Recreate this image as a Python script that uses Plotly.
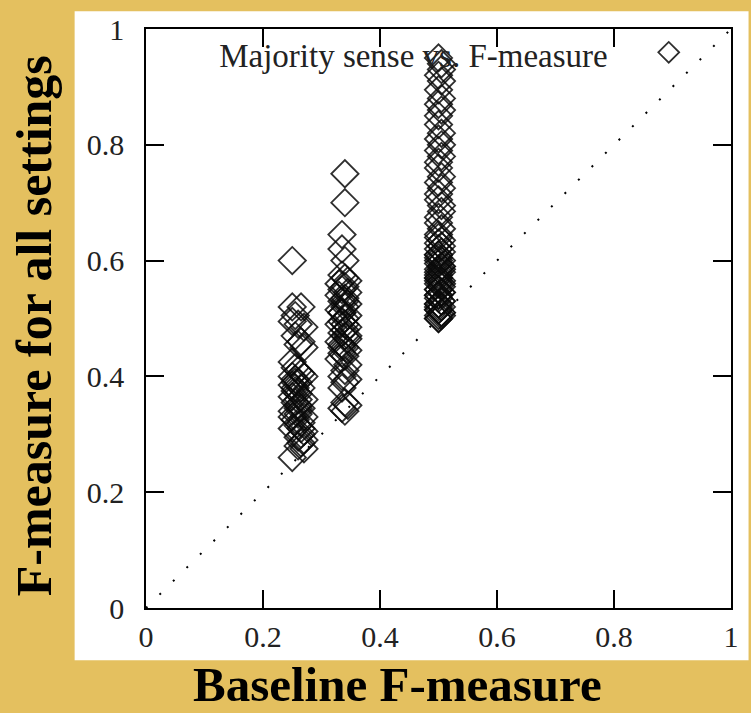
import plotly.graph_objects as go

# Baseline (majority sense) F-measure vs. F-measure obtained for each setting
base_a = [0.25, 0.25, 0.265, 0.255, 0.25, 0.26, 0.27, 0.255, 0.265, 0.26, 0.27,
          0.25, 0.255, 0.26, 0.265, 0.25, 0.27, 0.255, 0.26, 0.25, 0.265, 0.255,
          0.26, 0.25, 0.27, 0.255, 0.26, 0.265, 0.25, 0.26, 0.27, 0.255, 0.265,
          0.26, 0.25, 0.27, 0.265, 0.26, 0.27, 0.265, 0.26, 0.27, 0.25,
          0.255, 0.26, 0.25, 0.265, 0.255, 0.26]
fm_a = [0.60, 0.52, 0.52, 0.505, 0.495, 0.49, 0.485, 0.47, 0.46, 0.455, 0.45,
        0.425, 0.415, 0.41, 0.405, 0.40, 0.40, 0.395, 0.39, 0.385, 0.38, 0.375,
        0.37, 0.365, 0.36, 0.355, 0.35, 0.345, 0.34, 0.335, 0.33, 0.325, 0.32,
        0.315, 0.31, 0.305, 0.30, 0.295, 0.29, 0.285, 0.28, 0.275, 0.26,
        0.39, 0.36, 0.33, 0.31, 0.38, 0.345]

base_b = [0.34, 0.34, 0.335, 0.335, 0.34,
          0.335, 0.34, 0.345, 0.33, 0.34, 0.335, 0.345, 0.33, 0.34, 0.335,
          0.345, 0.34, 0.33, 0.335, 0.345, 0.34, 0.335, 0.33, 0.345, 0.34,
          0.335, 0.34, 0.345, 0.33, 0.335, 0.34, 0.345, 0.335, 0.34, 0.33,
          0.345, 0.34, 0.335, 0.345, 0.34, 0.335, 0.34, 0.345, 0.335, 0.34,
          0.34, 0.335, 0.34, 0.345, 0.335]
fm_b = [0.75, 0.70, 0.645, 0.62, 0.60,
        0.575, 0.57, 0.565, 0.56, 0.555, 0.55, 0.545, 0.54, 0.535, 0.53,
        0.525, 0.52, 0.515, 0.51, 0.505, 0.50, 0.495, 0.49, 0.485, 0.48,
        0.475, 0.47, 0.465, 0.46, 0.455, 0.45, 0.445, 0.44, 0.435, 0.43,
        0.42, 0.41, 0.40, 0.395, 0.39, 0.38, 0.355, 0.35, 0.345, 0.34,
        0.53, 0.51, 0.49, 0.47, 0.45]

base_c = [0.5, 0.505, 0.505, 0.5, 0.505, 0.5, 0.505, 0.5, 0.505, 0.5,
          0.5, 0.505, 0.5, 0.505, 0.5, 0.505, 0.5, 0.5, 0.505, 0.5,
          0.505, 0.5, 0.5, 0.505, 0.505, 0.5, 0.5, 0.505, 0.5, 0.5,
          0.505, 0.5, 0.505, 0.5, 0.505, 0.5, 0.5, 0.505, 0.5, 0.505,
          0.5, 0.505, 0.5, 0.5, 0.505, 0.5, 0.505, 0.5, 0.505, 0.5,
          0.5, 0.505, 0.5, 0.505, 0.5, 0.505, 0.5, 0.5, 0.505, 0.5,
          0.505, 0.5, 0.5, 0.505, 0.5, 0.505, 0.5, 0.505, 0.5, 0.5,
          0.505, 0.5, 0.5, 0.505, 0.5, 0.5]
fm_c = [0.95, 0.94, 0.93, 0.92, 0.91, 0.895, 0.88, 0.87, 0.86, 0.85,
        0.835, 0.82, 0.81, 0.80, 0.79, 0.78, 0.77, 0.76, 0.745, 0.735,
        0.725, 0.715, 0.705, 0.695, 0.685, 0.675, 0.665, 0.655, 0.645, 0.64,
        0.635, 0.63, 0.625, 0.62, 0.615, 0.61, 0.605, 0.60, 0.595, 0.59,
        0.585, 0.58, 0.575, 0.57, 0.565, 0.56, 0.555, 0.55, 0.545, 0.54,
        0.535, 0.53, 0.525, 0.52, 0.515, 0.51, 0.505, 0.50, 0.585, 0.565,
        0.545, 0.525, 0.515, 0.505, 0.50, 0.51, 0.52, 0.53, 0.54, 0.55,
        0.56, 0.57, 0.58, 0.59, 0.60, 0.61]

diag = [0, 1]
tick_vals = [0, 0.2, 0.4, 0.6, 0.8, 1]
tick_text = ["0", "0.2", "0.4", "0.6", "0.8", "1"]
key_label = "Majority sense vs. F-measure"

baseline = base_a + base_b + base_c
fmeasure = fm_a + fm_b + fm_c

GOLD = "#e4c05f"
SERIF = "Liberation Serif"
INK = "rgba(10,10,10,0.85)"
NBSP = "\u00a0"

fig = go.Figure()

fig.add_trace(go.Scatter(
    x=diag, y=diag, mode="lines", showlegend=False, hoverinfo="skip",
    line=dict(color="black", width=2, dash="2px,17px"),
))

fig.add_trace(go.Scatter(
    x=baseline, y=fmeasure, mode="markers", name="",
    marker=dict(symbol="diamond-open", size=21, color=INK,
                line=dict(width=1.8, color=INK)),
))

axis_common = dict(
    range=[0, 1], tickvals=tick_vals, ticktext=tick_text,
    ticks="inside", ticklen=18, tickwidth=1.5, tickcolor="black",
    showline=True, linecolor="black", linewidth=1.5, mirror="ticks",
    showgrid=False, zeroline=False,
    tickfont=dict(family=SERIF, size=30, color="#222"),
)

fig.update_layout(
    width=751, height=713,
    margin=dict(l=146, r=15, t=22, b=105),
    paper_bgcolor=GOLD, plot_bgcolor="white",
    xaxis=dict(**axis_common, ticklabelstandoff=1),
    yaxis=dict(**axis_common, ticklabelstandoff=14),
    showlegend=True,
    legend=dict(
        x=0.937, xanchor="right", y=1.008, yanchor="top",
        bgcolor="rgba(0,0,0,0)", itemsizing="trace",
        title=dict(text=key_label + NBSP * 4, side="left",
                   font=dict(family=SERIF, size=33, color="#222")),
        font=dict(family=SERIF, size=33, color="#222"),
    ),
    shapes=[dict(
        type="rect", xref="paper", yref="paper",
        x0=-0.122, x1=1.03, y0=-0.0904, y1=1.0307,
        fillcolor="white", line=dict(width=0), layer="below",
    )],
    annotations=[
        dict(text="<b>Baseline F-measure</b>", xref="paper", yref="paper",
             x=0.43, y=-0.1314, xanchor="center", yanchor="middle",
             showarrow=False,
             font=dict(family=SERIF, size=49, color="black")),
        dict(text="<b>F-measure for all settings</b>", xref="paper", yref="paper",
             x=-0.19, y=0.488, xanchor="center", yanchor="middle",
             textangle=-90, showarrow=False,
             font=dict(family=SERIF, size=50, color="black")),
    ],
)

fig.write_html("out.html")
